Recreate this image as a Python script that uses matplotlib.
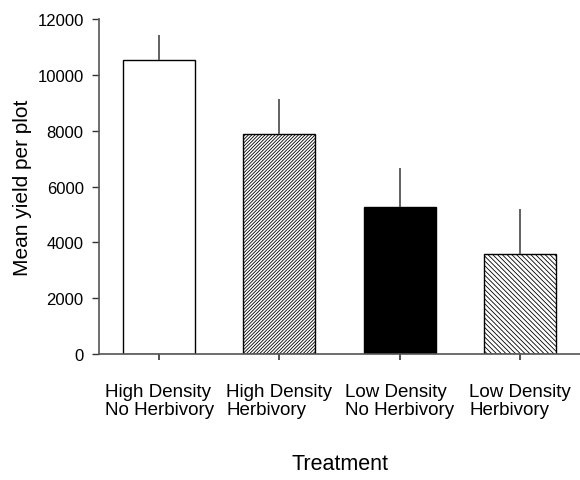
import matplotlib
matplotlib.use("Agg")
import matplotlib.pyplot as plt

# data
treatments = ["High Density\nNo Herbivory", "High Density\nHerbivory",
              "Low Density\nNo Herbivory", "Low Density\nHerbivory"]
means = [10550, 7870, 5270, 3580]
errors = [900, 1260, 1390, 1620]

fills = ["white", "white", "black", "white"]
hatches = ["", "/" * 10, "", "\\" * 7]

plt.rcParams['font.family'] = ['Liberation Sans', 'DejaVu Sans']
plt.rcParams['hatch.linewidth'] = 0.6

fig = plt.figure(figsize=(5.8, 4.81), dpi=100)
ax = fig.add_axes([0.1707, 0.262, 0.8293, 0.696])

x = range(len(treatments))
bars = ax.bar(x, means, width=0.6, color=fills, edgecolor="black", linewidth=1.0)
for b, h in zip(bars, hatches):
    b.set_hatch(h)

ax.errorbar(x, means, yerr=[[0] * 4, errors], fmt="none", ecolor="#555555",
            elinewidth=1.3, capsize=0)

ax.set_xlim(-0.5, 3.5)
ax.set_ylim(0, 12000)
ax.set_yticks(range(0, 12001, 2000))
ax.set_xticks(list(x))
ax.set_xticklabels(treatments, fontsize=13.5, multialignment="left", linespacing=1.1)
ax.tick_params(axis="y", labelsize=12, direction="out", length=5, width=1, pad=6,
               colors="#333333", labelcolor="black")
ax.tick_params(axis="x", direction="out", length=4, width=1.2, pad=17,
               colors="#333333", labelcolor="black")

for s in ["top", "right"]:
    ax.spines[s].set_visible(False)
for s in ["left", "bottom"]:
    ax.spines[s].set_color("#555555")
    ax.spines[s].set_linewidth(1.2)

ax.set_ylabel("Mean yield per plot", fontsize=15, labelpad=4)
ax.set_xlabel("Treatment", fontsize=15.5, labelpad=25)

fig.savefig("out.png", dpi=100)
